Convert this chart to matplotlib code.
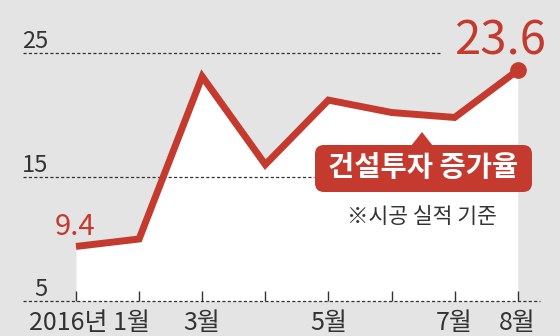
import matplotlib
matplotlib.use('Agg')
import matplotlib.pyplot as plt
import matplotlib.transforms as mtransforms
from matplotlib.patches import FancyBboxPatch, Polygon

plt.rcParams['font.family'] = ['Noto Sans CJK KR', 'DejaVu Sans']

# 건설투자 증가율 (%), 2016년 1~8월
months = [1, 2, 3, 4, 5, 6, 7, 8]
rate = [9.4, 10.0, 23.1, 16.0, 21.2, 20.2, 19.8, 23.6]
month_labels = ['2016년 1월', '', '3월', '', '5월', '', '7월', '8월']
yticks = [5, 15, 25]
grid_ends = [0.964, 0.56, 0.79]

RED = '#c43a2f'
BG = '#e4e4e4'
DARK = '#333333'

fig = plt.figure(figsize=(5.6, 3.36), dpi=100)
fig.patch.set_facecolor(BG)
ax = fig.add_axes([0, 0, 1, 1])
ax.set_facecolor(BG)
ax.set_xlim(-0.204, 8.67)
ax.set_ylim(2.18, 29.27)
ax.axis('off')

# white area under the line
ax.fill_between(months, rate, 5, color='white', lw=0, zorder=1)

# dashed guide lines + y labels
for y, xe in zip(yticks, grid_ends):
    ax.axhline(y, xmin=0.041, xmax=xe, color=DARK, lw=0.9,
               ls=(0, (2.5, 1.8)), zorder=2)
    ax.text(0.556, y + 0.4, str(y), ha='right', va='baseline',
            fontsize=17, color=DARK, fontweight='light', zorder=3)

# small tick marks at baseline
ax.vlines(months, 5, 5.8, color=DARK, lw=1, zorder=2)

# month labels
for m, lab in zip(months, month_labels):
    if not lab:
        continue
    tr = ax.transData
    if m == 1:
        tr = mtransforms.offset_copy(ax.transData, fig=fig, x=14, y=0, units='dots')
    ax.text(m, 4.25, lab, ha='center', va='top', fontsize=18, color=DARK,
            transform=tr, zorder=3)

# line + end marker
ax.plot(months, rate, color=RED, lw=5, solid_joinstyle='miter',
        solid_capstyle='butt', zorder=4)
ax.plot(months[-1], rate[-1], 'o', color=RED, ms=11, zorder=5)

# value labels
ax.text(months[0] - 0.02, rate[0] + 0.92, f'{rate[0]}', ha='center', va='baseline',
        fontsize=21, color=RED, fontweight='light', zorder=6)
ax.text(months[-1] - 0.28, rate[-1] + 1.24, f'{rate[-1]}', ha='center', va='baseline',
        fontsize=34, color=RED, fontweight='light', zorder=6)

# callout box in pixel coordinates
deco = fig.add_axes([0, 0, 1, 1])
deco.set_xlim(0, 560)
deco.set_ylim(336, 0)
deco.axis('off')
deco.patch.set_alpha(0)
box = FancyBboxPatch((315, 145), 217, 47, boxstyle='round,pad=0,rounding_size=9',
                     fc=RED, ec='none', zorder=6)
deco.add_patch(box)
deco.add_patch(Polygon([(411, 146), (433, 146), (422, 132)], closed=True,
                       fc=RED, ec='none', zorder=6))
deco.text(423, 168, '건설투자 증가율', ha='center', va='center', fontsize=20.5,
          fontweight='bold', color='white', zorder=7)
deco.text(422, 217, '※시공 실적 기준', ha='center', va='center', fontsize=15.5,
          color=DARK, zorder=7)

fig.savefig('out.png', dpi=100, facecolor=BG)
